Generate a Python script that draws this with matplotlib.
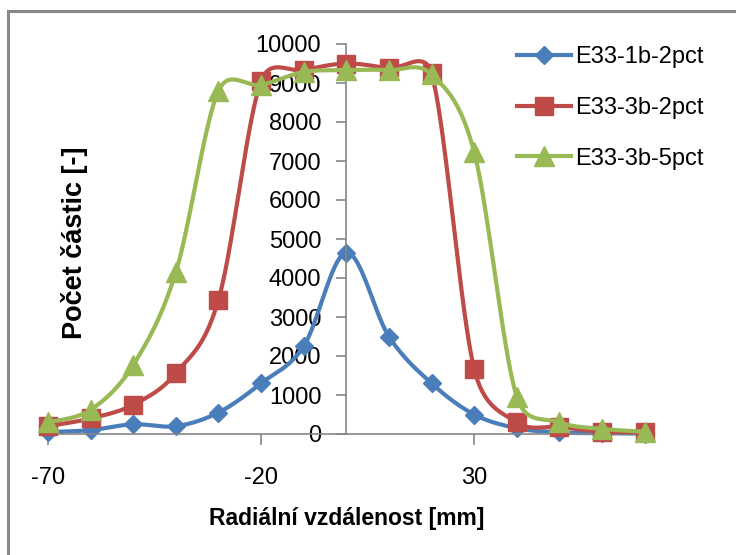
import matplotlib.pyplot as plt
import numpy as np
from matplotlib.patches import Rectangle

# data
x = [-70, -60, -50, -40, -30, -20, -10, 0, 10, 20, 30, 40, 50, 60, 70]
e33_1b_2pct = [50, 100, 250, 200, 550, 1300, 2250, 4650, 2500, 1300, 500, 150, 40, 20, 10]
e33_3b_2pct = [200, 400, 750, 1560, 3440, 9050, 9330, 9500, 9380, 9250, 1670, 300, 180, 60, 50]
e33_3b_5pct = [300, 620, 1770, 4150, 8800, 8950, 9280, 9330, 9330, 9220, 7230, 950, 300, 130, 60]

series = [
    ('E33-1b-2pct', e33_1b_2pct, '#4A7EBB', 'D', 9),
    ('E33-3b-2pct', e33_3b_2pct, '#BE4B48', 's', 13),
    ('E33-3b-5pct', e33_3b_5pct, '#98B954', '^', 14),
]

# pixel scale of the axes (px per data unit) so the smoothing is done in screen space
SX, SY = 4.26, 0.039


def smooth(xs, ys, n=40, k=0.6):
    # Excel-like bezier smoothing (tangent/6), control arm capped at k * segment length
    p = np.column_stack([np.array(xs) * SX, np.array(ys) * SY]).astype(float)
    m = len(p)
    pe = np.vstack([p[0], p, p[-1]])
    t = np.linspace(0, 1, n)[:, None]
    out = []
    for i in range(m - 1):
        p0, p1, p2, p3 = pe[i], pe[i + 1], pe[i + 2], pe[i + 3]
        d = np.hypot(*(p2 - p1))
        a1 = (p2 - p0) / 6
        a2 = (p3 - p1) / 6
        for a in (a1, a2):
            ln = np.hypot(*a)
            if ln > k * d:
                a *= k * d / ln
        c1 = p1 + a1
        c2 = p2 - a2
        seg = ((1 - t) ** 3) * p1 + 3 * ((1 - t) ** 2) * t * c1 + 3 * (1 - t) * t ** 2 * c2 + t ** 3 * p2
        out.append(seg)
    out = np.vstack(out)
    return out[:, 0] / SX, out[:, 1] / SY


plt.rcParams['font.family'] = ['Liberation Sans', 'DejaVu Sans']
plt.rcParams['axes.unicode_minus'] = False

fig = plt.figure(figsize=(7.36, 5.55), dpi=100)
W, H = 736, 555
ax = fig.add_axes([48 / W, 121 / H, 603 / W, 390 / H])

fig.patches.append(Rectangle((8 / W, -0.1), 1.2, 1.1 - 11 / H, transform=fig.transFigure,
                             fill=False, edgecolor='#888888', linewidth=2.2))

for i, (name, ys, col, mk, ms) in enumerate(series):
    sx, sy = smooth(x, ys)
    ax.plot(sx, sy, color=col, lw=3, zorder=2 + i, clip_on=False, solid_capstyle='round')
    ax.plot(x, ys, linestyle='none', marker=mk, ms=ms, color=col, mec=col, zorder=2 + i, clip_on=False)
    # legend proxy
    ax.plot([], [], color=col, lw=3, marker=mk, ms=ms, label=name)

ax.set_xlim(-70, 71.5)
ax.set_ylim(0, 10000)
ax.set_xticks([-70, -20, 30])
ax.set_yticks(range(0, 10001, 1000))

for s in ['top', 'right']:
    ax.spines[s].set_visible(False)
ax.spines['left'].set_position(('data', 0))
for s in ['left', 'bottom']:
    ax.spines[s].set_color('#868686')
    ax.spines[s].set_linewidth(1.2)
ax.tick_params(axis='y', direction='out', length=7, width=1.2, color='#868686', pad=11, labelsize=17)
ax.tick_params(axis='x', direction='out', length=8, width=1.2, color='#868686', pad=16, labelsize=17)
for lab in ax.get_yticklabels():
    lab.set_zorder(10)

fig.text(75 / W, 1 - 243 / H, 'Počet částic [-]', rotation=90, ha='center', va='center',
         fontsize=19.5, fontweight='bold')
fig.text(347 / W, 1 - 518 / H, 'Radiální vzdálenost [mm]', ha='center', va='center',
         fontsize=16.5, fontweight='bold')

handles, labels = ax.get_legend_handles_labels()
fig.legend(handles, labels, loc='upper left', bbox_to_anchor=(517 / W, 1 - 46 / H),
           frameon=False, fontsize=17, handlelength=2.3, handletextpad=0.15,
           labelspacing=1.22, borderpad=0, borderaxespad=0)

fig.savefig('out.png', dpi=100)
